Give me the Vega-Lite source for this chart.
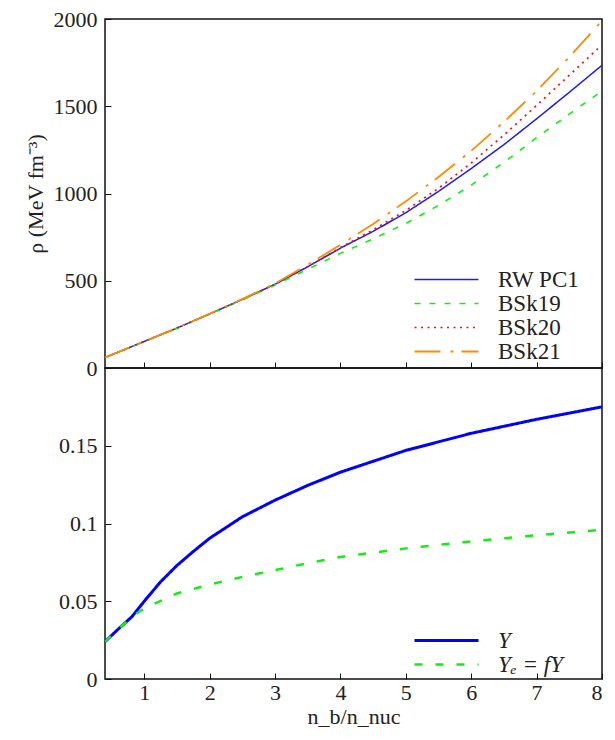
{
  "$schema": "https://vega.github.io/schema/vega-lite/v6.json",
  "background": "white",
  "padding": {"left": 23, "top": 7, "right": 12, "bottom": 5},
  "spacing": 0,
  "bounds": "flush",
  "resolve": {
    "scale": {"color": "independent", "strokeDash": "independent", "strokeWidth": "independent"},
    "legend": {"color": "independent", "strokeDash": "independent", "strokeWidth": "independent"}
  },
  "config": {
    "view": {"stroke": "#111", "strokeWidth": 1.5},
    "font": "Liberation Serif",
    "axis": {"grid": false, "domain": false, "tickColor": "#111", "tickSize": -6, "tickWidth": 1, "labelFont": "Liberation Serif", "labelFontSize": 22, "labelColor": "#222", "titleFont": "Liberation Serif", "titleFontSize": 22, "titleFontWeight": "normal", "titleColor": "#222"},
    "legend": {"labelFont": "Liberation Serif", "labelFontSize": 23, "labelColor": "#222", "symbolType": "M-4,0H4", "symbolSize": 256, "labelOffset": 40, "rowPadding": 0}
  },
  "datasets": {
    "eos": [
      {"x": 0.4, "rho": 60, "model": "RW PC1"}, {"x": 0.7, "rho": 106, "model": "RW PC1"}, {"x": 1, "rho": 152, "model": "RW PC1"}, {"x": 1.5, "rho": 229, "model": "RW PC1"}, {"x": 2, "rho": 310, "model": "RW PC1"}, {"x": 2.5, "rho": 393, "model": "RW PC1"}, {"x": 3, "rho": 480, "model": "RW PC1"}, {"x": 3.5, "rho": 580, "model": "RW PC1"}, {"x": 4, "rho": 687, "model": "RW PC1"}, {"x": 4.5, "rho": 783, "model": "RW PC1"}, {"x": 5, "rho": 890, "model": "RW PC1"}, {"x": 5.5, "rho": 1012, "model": "RW PC1"}, {"x": 6, "rho": 1143, "model": "RW PC1"}, {"x": 6.5, "rho": 1280, "model": "RW PC1"}, {"x": 7, "rho": 1428, "model": "RW PC1"}, {"x": 7.5, "rho": 1580, "model": "RW PC1"}, {"x": 8, "rho": 1735, "model": "RW PC1"},
      {"x": 0.4, "rho": 60, "model": "BSk19"}, {"x": 0.7, "rho": 106, "model": "BSk19"}, {"x": 1, "rho": 152, "model": "BSk19"}, {"x": 1.5, "rho": 228, "model": "BSk19"}, {"x": 2, "rho": 308, "model": "BSk19"}, {"x": 2.5, "rho": 390, "model": "BSk19"}, {"x": 3, "rho": 476, "model": "BSk19"}, {"x": 3.5, "rho": 566, "model": "BSk19"}, {"x": 4, "rho": 657, "model": "BSk19"}, {"x": 4.5, "rho": 740, "model": "BSk19"}, {"x": 5, "rho": 828, "model": "BSk19"}, {"x": 5.5, "rho": 932, "model": "BSk19"}, {"x": 6, "rho": 1048, "model": "BSk19"}, {"x": 6.5, "rho": 1178, "model": "BSk19"}, {"x": 7, "rho": 1320, "model": "BSk19"}, {"x": 7.5, "rho": 1455, "model": "BSk19"}, {"x": 8, "rho": 1588, "model": "BSk19"},
      {"x": 0.4, "rho": 60, "model": "BSk20"}, {"x": 0.7, "rho": 106, "model": "BSk20"}, {"x": 1, "rho": 152, "model": "BSk20"}, {"x": 1.5, "rho": 229, "model": "BSk20"}, {"x": 2, "rho": 310, "model": "BSk20"}, {"x": 2.5, "rho": 393, "model": "BSk20"}, {"x": 3, "rho": 480, "model": "BSk20"}, {"x": 3.5, "rho": 582, "model": "BSk20"}, {"x": 4, "rho": 690, "model": "BSk20"}, {"x": 4.5, "rho": 792, "model": "BSk20"}, {"x": 5, "rho": 903, "model": "BSk20"}, {"x": 5.5, "rho": 1030, "model": "BSk20"}, {"x": 6, "rho": 1175, "model": "BSk20"}, {"x": 6.5, "rho": 1335, "model": "BSk20"}, {"x": 7, "rho": 1505, "model": "BSk20"}, {"x": 7.5, "rho": 1678, "model": "BSk20"}, {"x": 8, "rho": 1852, "model": "BSk20"},
      {"x": 0.4, "rho": 60, "model": "BSk21"}, {"x": 0.7, "rho": 106, "model": "BSk21"}, {"x": 1, "rho": 152, "model": "BSk21"}, {"x": 1.5, "rho": 229, "model": "BSk21"}, {"x": 2, "rho": 311, "model": "BSk21"}, {"x": 2.5, "rho": 395, "model": "BSk21"}, {"x": 3, "rho": 484, "model": "BSk21"}, {"x": 3.5, "rho": 592, "model": "BSk21"}, {"x": 4, "rho": 706, "model": "BSk21"}, {"x": 4.5, "rho": 825, "model": "BSk21"}, {"x": 5, "rho": 955, "model": "BSk21"}, {"x": 5.5, "rho": 1095, "model": "BSk21"}, {"x": 6, "rho": 1245, "model": "BSk21"}, {"x": 6.5, "rho": 1410, "model": "BSk21"}, {"x": 7, "rho": 1588, "model": "BSk21"}, {"x": 7.5, "rho": 1782, "model": "BSk21"}, {"x": 8, "rho": 1990, "model": "BSk21"}
    ],
    "frac": [
      {"x": 0.4, "v": 0.024, "series": "Y"}, {"x": 0.6, "v": 0.032, "series": "Y"}, {"x": 0.81, "v": 0.040, "series": "Y"}, {"x": 1, "v": 0.050, "series": "Y"}, {"x": 1.25, "v": 0.0625, "series": "Y"}, {"x": 1.5, "v": 0.073, "series": "Y"}, {"x": 1.75, "v": 0.082, "series": "Y"}, {"x": 2, "v": 0.0905, "series": "Y"}, {"x": 2.5, "v": 0.1043, "series": "Y"}, {"x": 3, "v": 0.115, "series": "Y"}, {"x": 3.5, "v": 0.1245, "series": "Y"}, {"x": 4, "v": 0.133, "series": "Y"}, {"x": 5, "v": 0.147, "series": "Y"}, {"x": 6, "v": 0.158, "series": "Y"}, {"x": 7, "v": 0.167, "series": "Y"}, {"x": 8, "v": 0.175, "series": "Y"},
      {"x": 0.4, "v": 0.024, "series": "Yₑ = fY"}, {"x": 0.6, "v": 0.032, "series": "Yₑ = fY"}, {"x": 0.81, "v": 0.040, "series": "Yₑ = fY"}, {"x": 1, "v": 0.0455, "series": "Yₑ = fY"}, {"x": 1.5, "v": 0.055, "series": "Yₑ = fY"}, {"x": 2, "v": 0.0608, "series": "Yₑ = fY"}, {"x": 2.5, "v": 0.0657, "series": "Yₑ = fY"}, {"x": 3, "v": 0.070, "series": "Yₑ = fY"}, {"x": 3.5, "v": 0.0745, "series": "Yₑ = fY"}, {"x": 4, "v": 0.0785, "series": "Yₑ = fY"}, {"x": 5, "v": 0.084, "series": "Yₑ = fY"}, {"x": 6, "v": 0.0885, "series": "Yₑ = fY"}, {"x": 7, "v": 0.0925, "series": "Yₑ = fY"}, {"x": 8, "v": 0.096, "series": "Yₑ = fY"}
    ]
  },
  "vconcat": [
    {
      "width": 497,
      "height": 349,
      "data": {"name": "eos"},
      "mark": {"type": "line", "clip": true},
      "encoding": {
        "x": {"field": "x", "type": "quantitative", "scale": {"domain": [0.4, 8], "nice": false, "zero": false}, "axis": {"values": [1, 2, 3, 4, 5, 6, 7, 8], "labels": false, "title": null}},
        "y": {"field": "rho", "type": "quantitative", "scale": {"domain": [0, 2000], "nice": false}, "axis": {"values": [0, 500, 1000, 1500, 2000], "labelExpr": "datum.value", "title": "ρ (MeV fm⁻³)", "labelPadding": 14, "titlePadding": 6}},
        "color": {"field": "model", "type": "nominal", "scale": {"domain": ["RW PC1", "BSk19", "BSk20", "BSk21"], "range": ["#1a1aff", "#11ee11", "#ee1111", "#ff8c00"]}, "legend": {"orient": "none", "legendX": 330, "legendY": 249, "title": null}},
        "strokeDash": {"field": "model", "type": "nominal", "scale": {"domain": ["RW PC1", "BSk19", "BSk20", "BSk21"], "range": [[1, 0], [6, 9], [2, 4.5], [26, 10, 3, 8]]}, "legend": {"orient": "none", "legendX": 330, "legendY": 249, "title": null}},
        "strokeWidth": {"field": "model", "type": "nominal", "scale": {"domain": ["RW PC1", "BSk19", "BSk20", "BSk21"], "range": [1.5, 1.8, 2, 2]}, "legend": {"orient": "none", "legendX": 330, "legendY": 249, "title": null}}
      }
    },
    {
      "width": 497,
      "height": 311,
      "data": {"name": "frac"},
      "mark": {"type": "line", "clip": true},
      "encoding": {
        "x": {"field": "x", "type": "quantitative", "scale": {"domain": [0.4, 8], "nice": false, "zero": false}, "axis": {"values": [1, 2, 3, 4, 5, 6, 7, 8], "title": "n_b/n_nuc", "labelPadding": 9, "titlePadding": 3}},
        "y": {"field": "v", "type": "quantitative", "scale": {"domain": [0, 0.2], "nice": false}, "axis": {"values": [0, 0.05, 0.1, 0.15], "labelExpr": "datum.value", "title": null, "labelPadding": 14}},
        "color": {"field": "series", "type": "nominal", "scale": {"domain": ["Y", "Yₑ = fY"], "range": ["#0000ff", "#11ee11"]}, "legend": {"orient": "none", "legendX": 330, "legendY": 261, "title": null, "labelFontStyle": "italic"}},
        "strokeDash": {"field": "series", "type": "nominal", "scale": {"domain": ["Y", "Yₑ = fY"], "range": [[1, 0], [8, 13]]}, "legend": {"orient": "none", "legendX": 330, "legendY": 261, "title": null, "labelFontStyle": "italic"}},
        "strokeWidth": {"field": "series", "type": "nominal", "scale": {"domain": ["Y", "Yₑ = fY"], "range": [3, 2.5]}, "legend": {"orient": "none", "legendX": 330, "legendY": 261, "title": null, "labelFontStyle": "italic"}}
      }
    }
  ]
}
